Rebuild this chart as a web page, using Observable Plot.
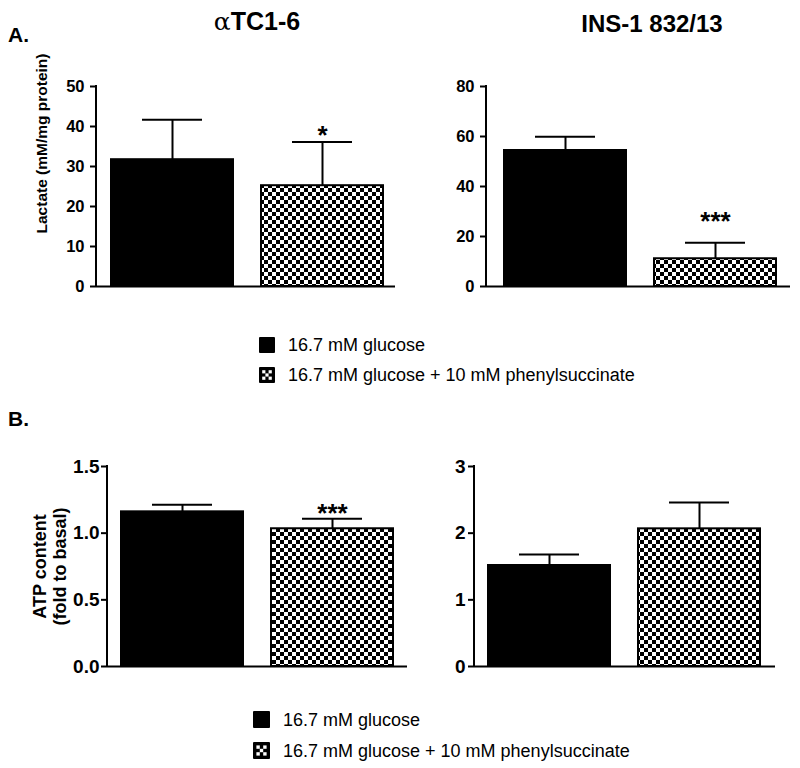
<!DOCTYPE html>
<html>
<head>
<meta charset="utf-8">
<script src="https://cdn.jsdelivr.net/npm/d3@7"></script>
<script src="https://cdn.jsdelivr.net/npm/@observablehq/plot@0.6"></script>
<style>
  body { margin: 0; background: #fff; }
  #root { position: relative; width: 800px; height: 768px; font-family: "Liberation Sans", Arial, sans-serif; color: #000; overflow: hidden; }
  .abs { position: absolute; }
</style>
</head>
<body>
<svg width="0" height="0" style="position:absolute">
  <defs>
    <pattern id="chk" patternUnits="userSpaceOnUse" width="8" height="8">
      <rect width="8" height="8" fill="#000"/>
      <rect width="4" height="4" fill="#fff"/>
      <rect x="4" y="4" width="4" height="4" fill="#fff"/>
    </pattern>
  </defs>
</svg>
<div id="root"></div>
<script>
// ---- data ----
const groups = ["16.7 mM glucose", "16.7 mM glucose + 10 mM phenylsuccinate"];
const cellLines = ["αTC1-6", "INS-1 832/13"];

const lactateAlpha = [31.7, 25.2];
const lactateAlphaSem = [10.0, 10.9];
const lactateAlphaStars = ["", "*"];

const lactateIns = [54.4, 11.1];
const lactateInsSem = [5.5, 6.4];
const lactateInsStars = ["", "***"];

const atpAlpha = [1.16, 1.033];
const atpAlphaSem = [0.053, 0.075];
const atpAlphaStars = ["", "***"];

const atpIns = [1.515, 2.065];
const atpInsSem = [0.165, 0.395];
const atpInsStars = ["", ""];

const lactateTicksAlpha = [0, 10, 20, 30, 40, 50];
const lactateTicksIns = [0, 20, 40, 60, 80];
const atpTicksAlpha = [0, 0.5, 1.0, 1.5];
const atpTicksIns = [0, 1, 2, 3];

const FONT = '"Liberation Sans", Arial, sans-serif';
const root = document.getElementById("root");
const svgNS = "http://www.w3.org/2000/svg";

function panel(o) {
  const data = groups.map((g, i) => ({group: g, mean: o.values[i], top: o.values[i] + o.sem[i], star: o.stars[i]}));
  const axisLine = (index, scales, values, dims) => {
    const l = document.createElementNS(svgNS, "line");
    l.setAttribute("x1", dims.marginLeft);
    l.setAttribute("x2", dims.marginLeft);
    l.setAttribute("y1", scales.y(o.yDomain[0]) + 1);
    l.setAttribute("y2", scales.y(o.yDomain[1]) - 1);
    l.setAttribute("stroke", "black");
    l.setAttribute("stroke-width", 2);
    return l;
  };
  const marks = [
    Plot.ruleX(data, {x: "group", y1: "mean", y2: "top", strokeWidth: 2}),
    Plot.tickY(data, {x: "group", y: "top", strokeWidth: 2, insetLeft: 31, insetRight: 31}),
    Plot.barY(data, {x: "group", y: "mean", fill: "group", stroke: "black", strokeWidth: 2}),
    Plot.ruleY([0], {strokeWidth: 2}),
    axisLine,
    Plot.axisY({ticks: o.ticks, tickFormat: o.fmt, tickSize: 6, tickPadding: o.tickPad, fontSize: o.tickFont, fontWeight: "bold", strokeWidth: 2, label: null}),
    Plot.text(data, {x: "group", y: "top", text: "star", dy: o.starDy, fontSize: 26, fontWeight: "bold", lineAnchor: "middle"})
  ];
  if (o.label) {
    marks.push(Plot.text([o.label], {frameAnchor: "left", textAnchor: "middle", rotate: -90, dx: o.labelDx, dy: o.labelDy, fontSize: o.labelSize, fontWeight: "bold", lineHeight: 1.15, lineAnchor: "middle"}));
  }
  const chart = Plot.plot({
    width: o.width, height: o.height,
    marginLeft: o.mL, marginRight: o.mR, marginTop: o.mT, marginBottom: o.mB,
    style: {fontFamily: FONT, background: "transparent", overflow: "visible", color: "black"},
    x: {type: "band", domain: groups, range: o.xRange, paddingInner: 0.187, paddingOuter: 0, axis: null},
    y: {domain: o.yDomain, axis: null},
    color: {domain: groups, range: ["black", "url(#chk)"]},
    marks
  });
  const d = document.createElement("div");
  d.className = "abs";
  d.style.left = o.left + "px";
  d.style.top = o.top + "px";
  d.appendChild(chart);
  root.appendChild(d);
}

panel({values: lactateAlpha, sem: lactateAlphaSem, stars: lactateAlphaStars, yDomain: [0, 50], ticks: lactateTicksAlpha, fmt: d3.format("d"),
  tickFont: 16.5, tickPad: 6,
  label: "Lactate (mM/mg protein)", labelDx: -55, labelDy: -43, labelSize: 15.5, starDy: -6,
  left: 0, top: 0, width: 400, height: 300, mL: 96, mR: 5, mT: 86, mB: 14, xRange: [111, 383]});

panel({values: lactateIns, sem: lactateInsSem, stars: lactateInsStars, yDomain: [0, 80], ticks: lactateTicksIns, fmt: d3.format("d"),
  tickFont: 16.5, tickPad: 6, starDy: -21,
  left: 400, top: 0, width: 400, height: 300, mL: 86, mR: 10, mT: 86, mB: 14, xRange: [104, 376]});

panel({values: atpAlpha, sem: atpAlphaSem, stars: atpAlphaStars, yDomain: [0, 1.5], ticks: atpTicksAlpha, fmt: d3.format(".1f"),
  tickFont: 19, tickPad: 2,
  label: "ATP content\n(fold to basal)", labelDx: -58, labelDy: 0, labelSize: 18, starDy: -5,
  left: 0, top: 400, width: 410, height: 280, mL: 107, mR: 3, mT: 66, mB: 14, xRange: [121, 393]});

panel({values: atpIns, sem: atpInsSem, stars: atpInsStars, yDomain: [0, 3], ticks: atpTicksIns, fmt: d3.format("d"),
  tickFont: 19, tickPad: 3, starDy: -5,
  left: 400, top: 400, width: 400, height: 280, mL: 74, mR: 25, mT: 66, mB: 14, xRange: [88, 360]});

// ---- titles, panel letters and legends (overlay svg) ----
const ov = d3.select(root).append("svg")
  .attr("class", "abs").attr("width", 800).attr("height", 768)
  .style("left", "0px").style("top", "0px").style("pointer-events", "none")
  .style("font-family", FONT);

const t1 = ov.append("text").attr("x", 257).attr("y", 30).attr("text-anchor", "middle")
  .attr("font-size", 25).attr("font-weight", "bold");
t1.append("tspan").attr("font-weight", "normal").attr("font-family", "DejaVu Serif, serif").text(cellLines[0].slice(0, 1));
t1.append("tspan").text(cellLines[0].slice(1));
ov.append("text").attr("x", 652).attr("y", 32).attr("text-anchor", "middle")
  .attr("font-size", 24).attr("font-weight", "bold").text(cellLines[1]);

ov.append("text").attr("x", 8).attr("y", 42).attr("font-size", 21).attr("font-weight", "bold").text("A.");
ov.append("text").attr("x", 8).attr("y", 426).attr("font-size", 21).attr("font-weight", "bold").text("B.");

function legend(x, y0, size, rowGap, textX) {
  groups.forEach((g, i) => {
    const y = y0 + i * rowGap;
    const sq = ov.append("g").attr("transform", `translate(${x},${y})`);
    sq.append("rect").attr("width", size).attr("height", size).attr("fill", "black").attr("rx", 1);
    if (i === 1) {
      const c = size / 5;
      [[1, 1], [3, 1], [2, 2], [1, 3], [3, 3]].forEach(([cx, cy]) => {
        sq.append("rect").attr("x", cx * c).attr("y", cy * c).attr("width", c).attr("height", c).attr("fill", "white");
      });
    }
    ov.append("text").attr("x", textX).attr("y", y + size - 2).attr("font-size", 18).text(g);
  });
}
legend(259, 337, 16, 30, 288);
legend(253, 711, 17, 31, 283);
</script>
</body>
</html>
